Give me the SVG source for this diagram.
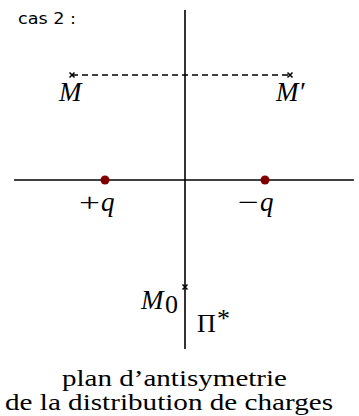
<svg xmlns="http://www.w3.org/2000/svg" width="359" height="416" viewBox="0 0 359 416">
<style>
.ax{stroke:#000;stroke-width:1.6;fill:none}
.cr{stroke:#000;stroke-width:1.5;fill:none}
.m{font-family:"Liberation Serif",serif;font-style:italic;font-size:27px;fill:#000}
.r{font-family:"Liberation Serif",serif;font-size:26px;fill:#000}
.t{font-family:"Liberation Serif",serif;font-size:23px;fill:#000}
.q{fill:#800000}
</style>
<rect width="359" height="416" fill="#fff"/>
<text x="18" y="24" font-family="DejaVu Sans,sans-serif" font-size="16" textLength="58" lengthAdjust="spacingAndGlyphs">cas 2 :</text>
<g id="connectors">
<line class="ax" x1="185" y1="10" x2="185" y2="349"/>
<line class="ax" x1="14" y1="180" x2="354" y2="180"/>
<line class="ax" x1="72" y1="75" x2="290" y2="75" stroke-dasharray="6,4" stroke-width="1.3"/>
</g>
<g id="M">
<path class="cr" d="M69.5,72.5l5,5m0,-5l-5,5"/>
<text class="m" x="59" y="101">M</text>
</g>
<g id="Mp">
<path class="cr" d="M287.5,72.5l5,5m0,-5l-5,5"/>
<text class="m" x="276" y="101">M′</text>
</g>
<g id="qplus">
<circle class="q" cx="105" cy="180" r="4.5"/>
<text class="r" x="79" y="211" textLength="21" lengthAdjust="spacingAndGlyphs">+</text>
<text class="m" x="101" y="211">q</text>
</g>
<g id="qminus">
<circle class="q" cx="265" cy="180" r="4.5"/>
<text class="r" x="238" y="211" textLength="21" lengthAdjust="spacingAndGlyphs">−</text>
<text class="m" x="260" y="211">q</text>
</g>
<g id="M0">
<path class="cr" d="M182.5,284.5l5,5m0,-5l-5,5"/>
<text class="m" x="141" y="309">M</text>
<text class="r" x="165" y="313" font-size="18">0</text>
</g>
<g id="Pi">
<text class="r" x="197" y="332" font-size="25">Π</text>
<text class="r" x="217" y="327" font-size="16">*</text>
</g>
<text class="t" x="62" y="386" textLength="225" lengthAdjust="spacingAndGlyphs">plan d’antisymetrie</text>
<text class="t" x="5" y="410" textLength="328" lengthAdjust="spacingAndGlyphs">de la distribution de charges</text>
</svg>
